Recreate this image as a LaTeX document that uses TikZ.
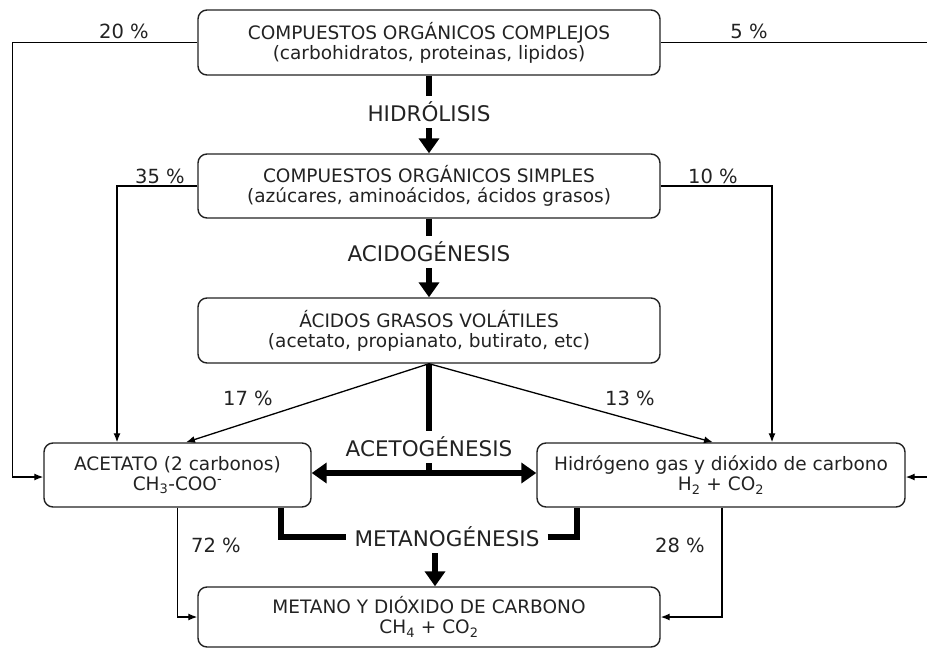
\documentclass[tikz,border=0pt]{standalone}
\usepackage{fontspec}
\setmainfont{DejaVu Sans}
\usetikzlibrary{arrows.meta}
\definecolor{tinta}{HTML}{222222}

\begin{document}
\begin{tikzpicture}[x=1pt,y=-1pt,
    caja/.style={draw=tinta,line width=1.4pt,rounded corners=9pt,align=center,inner sep=0pt,
      font=\fontsize{18.5}{20}\selectfont,text=tinta},
    fase/.style={font=\fontsize{21.5}{22}\selectfont,text=tinta,inner sep=6pt},
    pct/.style={font=\fontsize{19.5}{21}\selectfont,text=tinta,inner sep=0pt},
    fina/.style={line width=1.3pt,-{Latex[length=9pt,width=7pt]}},
    gruesa/.style={line width=6pt},
    punta/.style={-{Triangle[length=15pt,width=20pt]}}]
    \useasboundingbox (0,0) rectangle (927,648);
    % cajas
    \node[caja,minimum width=462pt,minimum height=65pt] (complejos) at (429,42.5)
      {COMPUESTOS ORGÁNICOS COMPLEJOS\\(carbohidratos, proteinas, lipidos)};
    \node[caja,minimum width=462pt,minimum height=64pt] (simples) at (429,186)
      {COMPUESTOS ORGÁNICOS SIMPLES\\(azúcares, aminoácidos, ácidos grasos)};
    \node[caja,minimum width=462pt,minimum height=65pt] (volatiles) at (429,330.5)
      {ÁCIDOS GRASOS VOLÁTILES\\(acetato, propianato, butirato, etc)};
    \node[caja,minimum width=267pt,minimum height=64pt] (acetato) at (177.5,475)
      {ACETATO (2 carbonos)\\CH\textsubscript{3}-COO\textsuperscript{-}};
    \node[caja,minimum width=368pt,minimum height=64pt] (hidrogeno) at (721,475)
      {Hidrógeno gas y dióxido de carbono\\H\textsubscript{2} + CO\textsubscript{2}};
    \node[caja,minimum width=462pt,minimum height=60pt] (metano) at (429,617)
      {METANO Y DIÓXIDO DE CARBONO\\CH\textsubscript{4} + CO\textsubscript{2}};
    % fases
    \node[fase] (hidrolisis) at (429,112) {HIDRÓLISIS};
    \node[fase] (acidogenesis) at (429,252) {ACIDOGÉNESIS};
    \node[fase] (acetogenesis) at (429,447) {ACETOGÉNESIS};
    \node[fase,inner xsep=8pt] (metanogenesis) at (447,537) {METANOGÉNESIS};
    % porcentajes
    \node[pct] (p20) at (124,31) {20 \%};
    \node[pct] (p5) at (749,31) {5 \%};
    \node[pct] (p35) at (160,176) {35 \%};
    \node[pct] (p10) at (713,176) {10 \%};
    \node[pct] (p17) at (248,398) {17 \%};
    \node[pct] (p13) at (630,398) {13 \%};
    \node[pct] (p72) at (216,545) {72 \%};
    \node[pct] (p28) at (680,545) {28 \%};
    % flechas finas
    \draw[fina] (complejos.west) -- ++(-185,0) |- ([yshift=-2pt]acetato.west);
    \draw[fina] (complejos.east) -- ++(267,0) |- ([yshift=-2pt]hidrogeno.east);
    \draw[fina] (simples.west) -| ([xshift=-60.5pt]acetato.north);
    \draw[fina] (simples.east) -| ([xshift=51pt]hidrogeno.north);
    \draw[fina] (volatiles.south) -- ([xshift=8.5pt]acetato.north);
    \draw[fina] (volatiles.south) -- ([xshift=-8pt]hidrogeno.north);
    \draw[fina] (acetato.south) |- (metano.west);
    \draw[fina] ([xshift=1pt]hidrogeno.south) |- (metano.east);
    % flechas gruesas
    \draw[gruesa] (complejos.south) -- (hidrolisis.north);
    \draw[gruesa,punta] (hidrolisis.south) -- (simples.north);
    \draw[gruesa] (simples.south) -- (acidogenesis.north);
    \draw[gruesa,punta] (acidogenesis.south) -- (volatiles.north);
    \draw[gruesa] (volatiles.south) -- (acetogenesis.north);
    \draw[gruesa] (acetogenesis.south) -- (acetogenesis.south |- acetato.east);
    \draw[gruesa,{Triangle[length=15pt,width=20pt]}-{Triangle[length=15pt,width=20pt]}]
      ([yshift=2pt]acetato.east) -- ([yshift=2pt]hidrogeno.west);
    \draw[gruesa] ([xshift=103.5pt]acetato.south) |- (metanogenesis.west);
    \draw[gruesa] (metanogenesis.east) -| ([xshift=-144pt]hidrogeno.south);
    \draw[gruesa,punta] ([xshift=-12pt]metanogenesis.south) -- ([xshift=6pt]metano.north);
\end{tikzpicture}
\end{document}
